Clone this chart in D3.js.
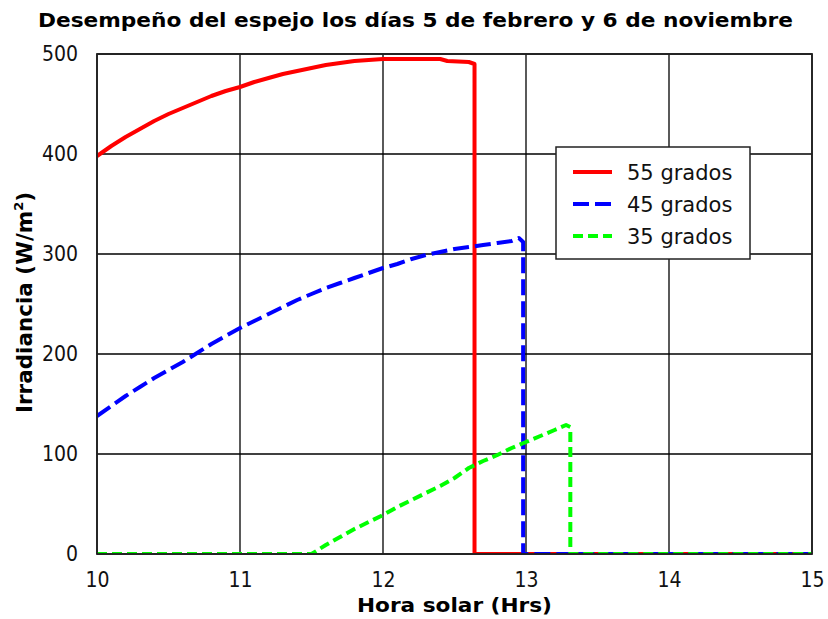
<!DOCTYPE html>
<html>
<head>
<meta charset="utf-8">
<script src="https://cdn.jsdelivr.net/npm/d3@7/dist/d3.min.js"></script>
<style>
  body { margin: 0; background: #fff; }
  svg { display: block; font-family: "DejaVu Sans", sans-serif; }
  .tick text { font-family: "DejaVu Sans Condensed", "DejaVu Sans", sans-serif; font-stretch: condensed; }
</style>
</head>
<body>
<svg id="chart" width="828" height="619"></svg>
<script>
// Irradiance (W/m²) versus solar hour for three mirror tilt angles
const hours55 = [10.0, 10.1, 10.2, 10.3, 10.4, 10.5, 10.6, 10.7, 10.8, 10.9, 11.0, 11.1, 11.2, 11.3, 11.4, 11.5, 11.6, 11.7, 11.8, 11.9, 12.0, 12.2, 12.4, 12.45, 12.6, 12.64, 12.64, 13.0, 15.0];
const irr55   = [398, 408, 417, 425, 433, 440, 446, 452, 458, 463, 467, 472, 476, 480, 483, 486, 489, 491, 493, 494, 495, 495, 495, 493, 492, 490, 0, 0, 0];

const hours45 = [10.0, 10.1, 10.2, 10.3, 10.4, 10.5, 10.6, 10.7, 10.8, 10.9, 11.0, 11.1, 11.2, 11.3, 11.4, 11.5, 11.6, 11.7, 11.8, 11.9, 12.0, 12.1, 12.2, 12.3, 12.4, 12.5, 12.6, 12.7, 12.8, 12.9, 12.95, 12.98, 12.98, 15.0];
const irr45   = [138, 148, 158, 167, 176, 184, 192, 201, 210, 218, 226, 233, 240, 247, 254, 260, 266, 271, 276, 281, 286, 290, 295, 299, 302, 305, 307, 309, 311, 313, 316, 312, 0, 0];

const hours35 = [10.0, 11.5, 11.6, 11.7, 11.8, 11.9, 12.0, 12.1, 12.2, 12.3, 12.4, 12.5, 12.6, 12.7, 12.8, 12.9, 13.0, 13.1, 13.2, 13.28, 13.31, 13.31, 15.0];
const irr35   = [0, 0, 9, 17, 25, 32, 39, 47, 54, 61, 68, 76, 86, 93, 99, 106, 112, 118, 124, 129, 127, 0, 0];

const seriesNames = ["55 grados", "45 grados", "35 grados"];
const xTicks = [10, 11, 12, 13, 14, 15];
const yTicks = [0, 100, 200, 300, 400, 500];

const titleText = "Desempeño del espejo los días 5 de febrero y 6 de noviembre";
const xLabel = "Hora solar (Hrs)";

const styles = [
  { color: "#ff0000", dash: null },
  { color: "#0000ff", dash: "16,6" },
  { color: "#00ff00", dash: "10,5" }
];

const series = [
  { name: seriesNames[0], points: hours55.map((h, i) => [h, irr55[i]]) },
  { name: seriesNames[1], points: hours45.map((h, i) => [h, irr45[i]]) },
  { name: seriesNames[2], points: hours35.map((h, i) => [h, irr35[i]]) }
];

const svg = d3.select("#chart");
const m = { left: 97, right: 812, top: 54, bottom: 554 };

const x = d3.scaleLinear().domain([10, 15]).range([m.left, m.right]);
const y = d3.scaleLinear().domain([0, 500]).range([m.bottom, m.top]);

// grid lines
const grid = svg.append("g");
grid.selectAll("line.vx").data(xTicks).join("line")
  .attr("x1", d => x(d)).attr("x2", d => x(d))
  .attr("y1", m.top).attr("y2", m.bottom)
  .attr("stroke", "#000").attr("stroke-width", 1.3);
grid.selectAll("line.hy").data(yTicks).join("line")
  .attr("x1", m.left).attr("x2", m.right)
  .attr("y1", d => y(d)).attr("y2", d => y(d))
  .attr("stroke", "#000").attr("stroke-width", 1.3);

// clip region for data lines
svg.append("clipPath").attr("id", "plotClip")
  .append("rect")
  .attr("x", m.left).attr("y", m.top)
  .attr("width", m.right - m.left).attr("height", m.bottom - m.top);

const line = d3.line().x(d => x(d[0])).y(d => y(d[1]));

const lines = svg.append("g").attr("clip-path", "url(#plotClip)");
series.forEach((s, i) => {
  lines.append("path")
    .datum(s.points)
    .attr("d", line)
    .attr("fill", "none")
    .attr("stroke", styles[i].color)
    .attr("stroke-width", 4)
    .attr("stroke-linejoin", "round")
    .attr("stroke-dasharray", styles[i].dash);
});

// frame
svg.append("rect")
  .attr("x", m.left).attr("y", m.top)
  .attr("width", m.right - m.left).attr("height", m.bottom - m.top)
  .attr("fill", "none").attr("stroke", "#222").attr("stroke-width", 1.8);

// axes (labels only; the grid carries the tick positions)
const xAxis = svg.append("g")
  .attr("transform", `translate(0,${m.bottom})`)
  .call(d3.axisBottom(x).tickValues(xTicks).tickSize(0).tickPadding(18).tickFormat(d3.format("d")));
xAxis.select(".domain").remove();
xAxis.selectAll("text").attr("font-size", 21).attr("fill", "#111");

const yAxis = svg.append("g")
  .attr("transform", `translate(${m.left},0)`)
  .call(d3.axisLeft(y).tickValues(yTicks).tickSize(0).tickPadding(19).tickFormat(d3.format("d")));
yAxis.select(".domain").remove();
yAxis.selectAll("text").attr("font-size", 21).attr("fill", "#111");

// title
svg.append("text")
  .attr("x", 415.5).attr("y", 27)
  .attr("text-anchor", "middle")
  .attr("font-size", 20).attr("font-weight", "bold")
  .attr("textLength", 755).attr("lengthAdjust", "spacingAndGlyphs")
  .text(titleText);

// x label
svg.append("text")
  .attr("x", 454.5).attr("y", 612)
  .attr("text-anchor", "middle")
  .attr("font-size", 19).attr("font-weight", "bold")
  .attr("textLength", 195).attr("lengthAdjust", "spacingAndGlyphs")
  .text(xLabel);

// y label with superscript
const yl = svg.append("text")
  .attr("transform", "translate(32,302.5) rotate(-90)")
  .attr("text-anchor", "middle")
  .attr("font-size", 21.5).attr("font-weight", "bold");
yl.append("tspan").text("Irradiancia (W/m");
yl.append("tspan").attr("font-size", 13).attr("dy", -9).text("2");
yl.append("tspan").attr("dy", 9).text(")");

// legend
const lg = svg.append("g");
lg.append("rect")
  .attr("x", 556).attr("y", 147).attr("width", 194).attr("height", 112)
  .attr("fill", "#fff").attr("stroke", "#222").attr("stroke-width", 1.5);
series.forEach((s, i) => {
  const yy = 172 + i * 32;
  lg.append("line")
    .attr("x1", 573).attr("x2", 612).attr("y1", yy).attr("y2", yy)
    .attr("stroke", styles[i].color).attr("stroke-width", 4)
    .attr("stroke-dasharray", styles[i].dash);
  lg.append("text")
    .attr("x", 627).attr("y", yy + 7.5)
    .attr("font-size", 21).attr("fill", "#111")
    .text(s.name);
});
</script>
</body>
</html>
